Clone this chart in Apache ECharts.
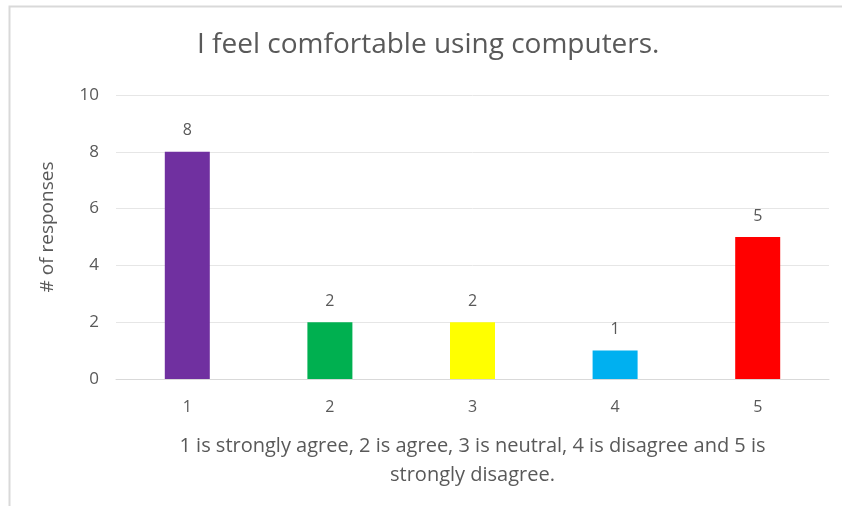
<!DOCTYPE html>
<html>
<head>
<meta charset="utf-8">
<script src="https://cdn.jsdelivr.net/npm/echarts@6/dist/echarts.min.js"></script>
<style>
  html, body { margin: 0; padding: 0; background: #fff; }
  #chart { width: 842px; height: 506px; }
</style>
</head>
<body>
<div id="chart"></div>
<script>
// data
var categories = ['1', '2', '3', '4', '5'];
var responses = [8, 2, 2, 1, 5];
var barColors = ['#7030A0', '#00B050', '#FFFF00', '#00B0F0', '#FF0000'];
var yTicks = [0, 2, 4, 6, 8, 10];

var chart = echarts.init(document.getElementById('chart'));
var textColor = '#595959';
var font = 'Open Sans, Lato, sans-serif';

chart.setOption({
  animation: false,
  textStyle: { fontFamily: font },
  title: {
    text: 'I feel comfortable using computers.',
    left: 197,
    top: 31,
    padding: 0,
    textStyle: { fontSize: 28, fontWeight: 'normal', color: textColor, fontFamily: font }
  },
  graphic: [{
    type: 'rect',
    shape: { x: 9.5, y: 6.5, width: 900, height: 600 },
    style: { fill: 'none', stroke: '#d9d9d9', lineWidth: 2 },
    silent: true
  }],
  grid: { left: 116, right: 13, top: 95, bottom: 127 },
  xAxis: {
    type: 'category',
    data: categories,
    axisTick: { show: false },
    axisLine: { lineStyle: { color: '#d9d9d9' } },
    axisLabel: { color: textColor, fontSize: 16, margin: 20 },
    name: '1 is strongly agree, 2 is agree, 3 is neutral, 4 is disagree and 5 is\nstrongly disagree.',
    nameLocation: 'middle',
    nameGap: 34,
    nameTextStyle: { color: textColor, fontSize: 20, lineHeight: 29, padding: [12, 0, 0, 0] }
  },
  yAxis: {
    type: 'value',
    min: yTicks[0],
    max: yTicks[yTicks.length - 1],
    interval: 2,
    axisLine: { show: false },
    axisTick: { show: false },
    splitLine: { lineStyle: { color: '#e6e6e6' } },
    axisLabel: { color: textColor, fontSize: 17, margin: 17 },
    name: '# of responses',
    nameLocation: 'middle',
    nameGap: 59,
    nameTextStyle: { color: textColor, fontSize: 19, padding: [0, 0, 0, 20] }
  },
  series: [{
    type: 'bar',
    barWidth: 45,
    data: responses.map(function (v, i) {
      return { value: v, itemStyle: { color: barColors[i] } };
    }),
    label: {
      show: true,
      position: 'top',
      distance: 13,
      color: textColor,
      fontSize: 16
    }
  }]
});
</script>
</body>
</html>
